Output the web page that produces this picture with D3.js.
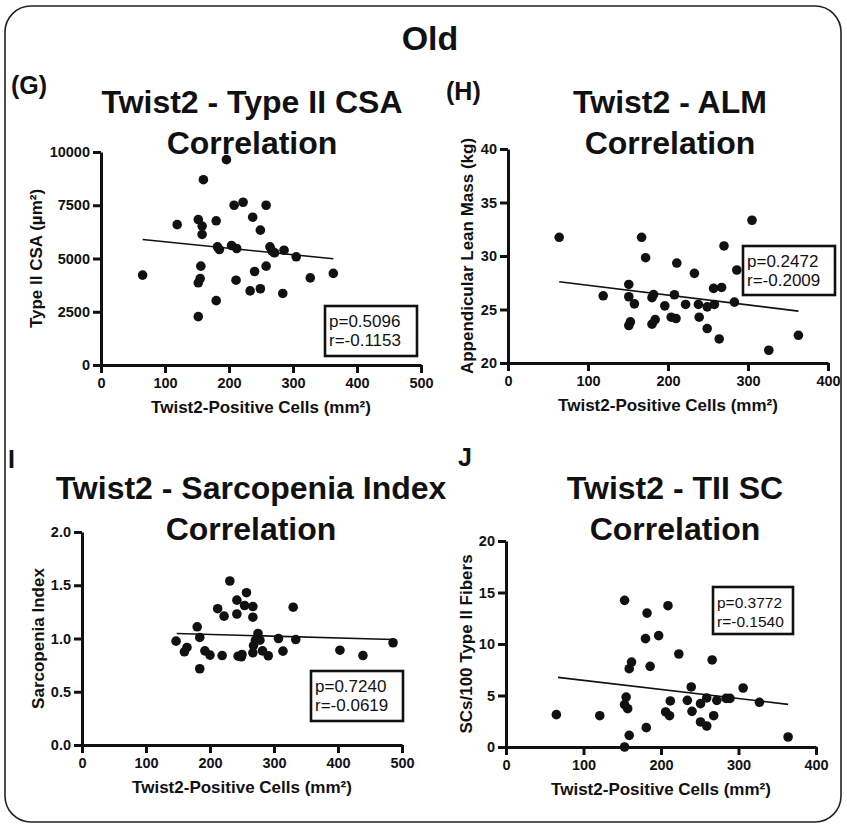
<!DOCTYPE html>
<html>
<head>
<meta charset="utf-8">
<script src="https://cdn.jsdelivr.net/npm/d3@7"></script>
<style>
  body { margin: 0; background: #fff; }
  text { font-family: "Liberation Sans", Arial, Helvetica, sans-serif; fill: #111; }
</style>
</head>
<body>
<div id="chart"></div>
<script>
// values

// (G) Twist2 vs Type II CSA
const gX = [65,119,152,158,158,160,156,155,152,152,180,180,182,185,196,208,222,204,212,211,237,249,258,264,267,271,258,240,233,249,286,284,305,327,363];
const gY = [4220,6590,6830,6520,6130,8700,4640,4060,3860,2270,6770,3020,5550,5420,9640,7500,7640,5610,5470,3980,6940,6330,7500,5550,5360,5270,4640,4390,3480,3580,5390,3360,5080,4090,4300];
const gFit = [[65, 5890], [363, 4985]];
const gStats = ["p=0.5096", "r=-0.1153"];

// (H) Twist2 vs ALM
const hX = [64,119,151,151,158,167,172,153,151,180,182,180,184,196,204,210,208,211,222,233,238,239,249,249,258,257,267,264,270,283,286,305,326,363];
const hY = [31.75,26.28,27.34,26.19,25.53,31.75,29.84,23.84,23.5,26.1,26.4,23.63,24.06,25.34,24.28,24.16,26.38,29.34,25.47,28.38,25.47,24.28,25.25,23.22,25.47,26.97,27.06,22.25,30.94,25.69,28.69,33.34,21.19,22.59];
const hFit = [[64, 27.6], [363, 24.85]];
const hStats = ["p=0.2472", "r=-0.2009"];

// (I) Twist2 vs Sarcopenia Index
const iX = [147,160,164,180,184,184,192,200,212,219,222,231,242,242,244,249,250,254,257,267,267,267,268,271,275,278,282,291,307,314,330,334,403,439,486];
const iY = [0.975,0.875,0.916,1.11,1.01,0.716,0.884,0.844,1.28,0.84,1.21,1.54,1.23,1.36,0.834,0.828,0.85,1.31,1.43,1.30,1.20,0.866,0.934,0.984,1.047,0.984,0.884,0.838,1.0,0.881,1.294,0.99,0.89,0.84,0.96];
const iFit = [[148, 1.047], [486, 0.99]];
const iStats = ["p=0.7240", "r=-0.0619"];

// (J) Twist2 vs TII SC
const jX = [65,121,153,155,153,157,162,159,159,153,182,180,186,181,197,209,223,212,206,211,239,234,240,251,259,251,259,266,272,268,284,289,306,327,364];
const jY = [3.14,3.04,14.24,4.85,4.11,3.72,8.25,7.6,1.13,0,13.0,10.52,7.83,1.88,10.81,13.72,9.03,4.47,3.4,3.04,5.83,4.53,3.46,4.21,4.76,2.43,2.04,8.45,4.53,3.04,4.72,4.72,5.73,4.34,0.97];
const jFit = [[67, 6.76], [364, 4.14]];
const jStats = ["p=0.3772", "r=-0.1540"];

const xTicks500 = [0, 100, 200, 300, 400, 500];
const xTicks400 = [0, 100, 200, 300, 400];
const gTicks = [0, 2500, 5000, 7500, 10000];
const hTicks = [20, 25, 30, 35, 40];
const iTicks = [0, 0.5, 1.0, 1.5, 2.0];
const jTicks = [0, 5, 10, 15, 20];

const xLabel = "Twist2-Positive Cells (mm²)";

const W = 847, H = 829;

const svg = d3.select("#chart").append("svg")
    .attr("width", W)
    .attr("height", H);

// frame + main title
svg.append("rect")
    .attr("x", 5).attr("y", 6)
    .attr("width", 836).attr("height", 816)
    .attr("rx", 26).attr("ry", 26)
    .attr("fill", "none")
    .attr("stroke", "#222")
    .attr("stroke-width", 1.6);

svg.append("text")
    .attr("x", 430).attr("y", 50)
    .attr("text-anchor", "middle")
    .attr("font-size", 34)
    .attr("font-weight", "bold")
    .text("Old");

function drawPanel(p) {
    const x = d3.scaleLinear().domain(p.xDomain).range([p.left, p.right]);
    const y = d3.scaleLinear().domain(p.yDomain).range([p.bottom, p.top]);

    // letter + title
    svg.append("text")
        .attr("x", p.tag[0]).attr("y", p.tag[1])
        .attr("font-size", 25)
        .attr("font-weight", "bold")
        .text(p.tagText);

    p.title.forEach(function(line, k) {
        svg.append("text")
            .attr("x", p.titleX)
            .attr("y", p.titleY + k * 41)
            .attr("text-anchor", "middle")
            .attr("font-size", 32)
            .attr("font-weight", "bold")
            .text(line);
    });

    // axes
    const xAxis = d3.axisBottom(x)
        .tickValues(p.xTicks)
        .tickSize(8)
        .tickSizeOuter(0)
        .tickPadding(5)
        .tickFormat(d3.format("d"));
    const yAxis = d3.axisLeft(y)
        .tickValues(p.yTicks)
        .tickSize(8)
        .tickSizeOuter(0)
        .tickPadding(3)
        .tickFormat(p.yFormat);

    const gx = svg.append("g")
        .attr("transform", "translate(0," + p.bottom + ")")
        .call(xAxis);
    const gy = svg.append("g")
        .attr("transform", "translate(" + p.left + ",0)")
        .call(yAxis);

    [gx, gy].forEach(function(g) {
        g.select(".domain").attr("stroke", "#111").attr("stroke-width", 3);
        g.selectAll(".tick line").attr("stroke", "#111").attr("stroke-width", 3);
        g.selectAll(".tick text")
            .attr("font-family", "\"Liberation Sans\", Arial, sans-serif")
            .attr("font-size", 14.5)
            .attr("font-weight", "bold")
            .attr("fill", "#111");
    });

    // axis titles
    svg.append("text")
        .attr("x", (p.left + p.right) / 2)
        .attr("y", p.bottom + 48)
        .attr("text-anchor", "middle")
        .attr("font-size", 17)
        .attr("font-weight", "bold")
        .text(xLabel);

    svg.append("text")
        .attr("transform", "translate(" + p.yLabelX + "," + ((p.top + p.bottom) / 2) + ") rotate(-90)")
        .attr("text-anchor", "middle")
        .attr("font-size", 17)
        .attr("font-weight", "bold")
        .text(p.yLabel);

    // fit line
    svg.append("line")
        .attr("x1", x(p.fit[0][0])).attr("y1", y(p.fit[0][1]))
        .attr("x2", x(p.fit[1][0])).attr("y2", y(p.fit[1][1]))
        .attr("stroke", "#111")
        .attr("stroke-width", 1.6);

    // points
    svg.append("g")
        .selectAll("circle")
        .data(p.xs.map(function(v, k) { return [v, p.ys[k]]; }))
        .join("circle")
        .attr("cx", function(d) { return x(d[0]); })
        .attr("cy", function(d) { return y(d[1]); })
        .attr("r", 4.8)
        .attr("fill", "#111");

    // stats box
    svg.append("rect")
        .attr("x", p.box[0]).attr("y", p.box[1])
        .attr("width", p.box[2]).attr("height", p.box[3])
        .attr("fill", "#fff")
        .attr("stroke", "#111")
        .attr("stroke-width", 2.6);
    p.stats.forEach(function(s, k) {
        svg.append("text")
            .attr("x", p.box[0] + 4)
            .attr("y", p.box[1] + 21 + k * 19)
            .attr("font-size", p.statSize)
            .text(s);
    });
}

drawPanel({
    xs: gX, ys: gY, fit: gFit, stats: gStats,
    xDomain: [0, 500], yDomain: [0, 10000], xTicks: xTicks500, yTicks: gTicks,
    yFormat: d3.format("d"),
    left: 101, right: 421, top: 152, bottom: 365,
    tag: [11, 94], tagText: "(G)",
    title: ["Twist2 - Type II CSA", "Correlation"], titleX: 252, titleY: 113,
    yLabel: "Type II CSA (µm²)", yLabelX: 42,
    box: [325, 306, 92, 50], statSize: 17
});

drawPanel({
    xs: hX, ys: hY, fit: hFit, stats: hStats,
    xDomain: [0, 400], yDomain: [20, 40], xTicks: xTicks400, yTicks: hTicks,
    yFormat: d3.format("d"),
    left: 508, right: 828, top: 149, bottom: 363,
    tag: [446, 100], tagText: "(H)",
    title: ["Twist2 - ALM", "Correlation"], titleX: 670, titleY: 113,
    yLabel: "Appendicular Lean Mass (kg)", yLabelX: 473,
    box: [743, 246, 92, 49], statSize: 17
});

drawPanel({
    xs: iX, ys: iY, fit: iFit, stats: iStats,
    xDomain: [0, 500], yDomain: [0, 2], xTicks: xTicks500, yTicks: iTicks,
    yFormat: d3.format(".1f"),
    left: 82, right: 402, top: 532, bottom: 745,
    tag: [8, 468], tagText: "I",
    title: ["Twist2 - Sarcopenia Index", "Correlation"], titleX: 251, titleY: 499,
    yLabel: "Sarcopenia Index", yLabelX: 44,
    box: [311, 671, 92, 50], statSize: 17
});

drawPanel({
    xs: jX, ys: jY, fit: jFit, stats: jStats,
    xDomain: [0, 400], yDomain: [0, 20], xTicks: xTicks400, yTicks: jTicks,
    yFormat: d3.format("d"),
    left: 506, right: 816, top: 541, bottom: 747,
    tag: [458, 466], tagText: "J",
    title: ["Twist2 - TII SC", "Correlation"], titleX: 675, titleY: 499,
    yLabel: "SCs/100 Type II Fibers", yLabelX: 472,
    box: [713, 587, 80, 47], statSize: 15.5
});
</script>
</body>
</html>
